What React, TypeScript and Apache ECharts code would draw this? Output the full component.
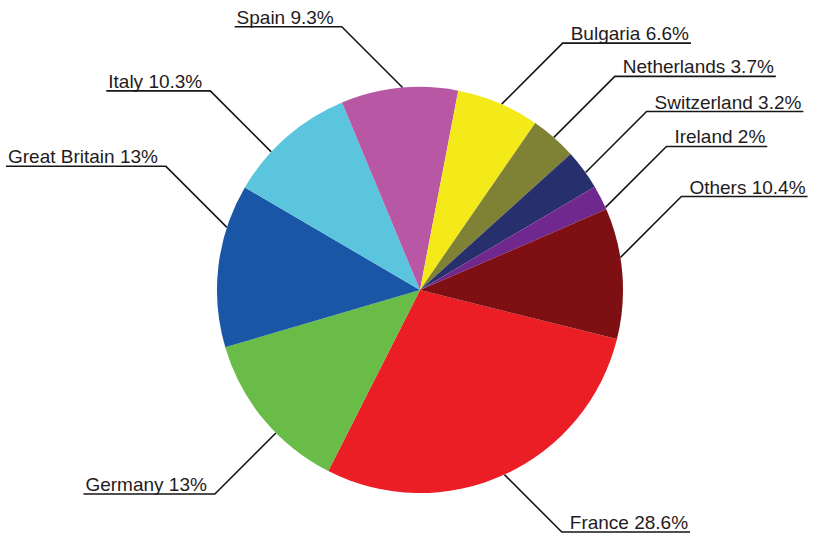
import React, { useEffect, useRef } from "react";
import * as echarts from "echarts";

// ---- data ----
const countries = [
  "France",
  "Germany",
  "Great Britain",
  "Italy",
  "Spain",
  "Bulgaria",
  "Netherlands",
  "Switzerland",
  "Ireland",
  "Others",
];
const shares = [28.6, 13, 13, 10.3, 9.3, 6.6, 3.7, 3.2, 2, 10.4];

// ---- styling / layout (kept separate from data) ----
const sliceColors = [
  "#EC1E25",
  "#68BC47",
  "#1A56A6",
  "#5BC5DE",
  "#B857A3",
  "#F4EA1A",
  "#7F8234",
  "#27306C",
  "#70288E",
  "#7E1014",
];
// small angular shift (deg, clockwise) of where each leader line touches the pie
const leaderAngleOffset = [0, -5, 11, -6, 1, 1, 0, 1, 3, -4.5];

const CX = 420;
const CY = 290;
const R = 203;
const DIAG = 61;
const GAP = 8;
const OVERHANG = 2;

export default function App() {
  const ref = useRef<HTMLDivElement>(null);

  useEffect(() => {
    if (!ref.current) return;
    const chart = echarts.init(ref.current, null, { renderer: "svg" });
    const H = chart.getHeight();
    chart.setOption({
      animation: false,
      backgroundColor: "#ffffff",
      series: [
        {
          type: "pie",
          center: [CX, CY],
          radius: R,
          startAngle: 346,
          clockwise: true,
          avoidLabelOverlap: false,
          silent: true,
          data: countries.map((name, i) => ({
            name,
            value: shares[i],
            itemStyle: { color: sliceColors[i] },
          })),
          itemStyle: { borderWidth: 0 },
          label: {
            show: true,
            position: "outside",
            formatter: "{b} {c}%",
            fontFamily: '"Liberation Sans", Arial, sans-serif',
            fontSize: 19,
            color: "#1f1c1d",
            overflow: "none",
          },
          labelLine: {
            show: true,
            length: 10,
            length2: 5,
            smooth: false,
            lineStyle: { color: "#161616", width: 1.6 },
          },
          labelLayout: (params: any) => {
            const pts = params.labelLinePoints;
            if (!pts) return {};
            const i = params.dataIndex;
            const p0 = pts[0];
            const a = (leaderAngleOffset[i] * Math.PI) / 180;
            const vx = p0[0] - CX;
            const vy = p0[1] - CY;
            const ax = CX + vx * Math.cos(a) - vy * Math.sin(a);
            const ay = CY + vx * Math.sin(a) + vy * Math.cos(a);
            const sx = ax >= CX ? 1 : -1;
            const sy = ay >= CY ? 1 : -1;
            let ey = ay + sy * DIAG;
            // keep the underline inside the chart
            ey = Math.min(Math.max(ey, 20), H - 1);
            const ex = ax + sx * Math.abs(ey - ay);
            const w = params.labelRect.width;
            const endX = ex + sx * (GAP + w + OVERHANG);
            return {
              x: ex + sx * GAP,
              y: ey,
              align: sx > 0 ? "left" : "right",
              verticalAlign: "bottom",
              labelLinePoints: [
                [ax, ay],
                [ex, ey],
                [endX, ey],
              ],
            };
          },
        },
      ],
    });
    return () => chart.dispose();
  }, []);

  return (
    <div
      ref={ref}
      style={{
        position: "absolute",
        left: 0,
        top: 0,
        width: 813,
        height: 533,
        background: "#fff",
      }}
    />
  );
}
